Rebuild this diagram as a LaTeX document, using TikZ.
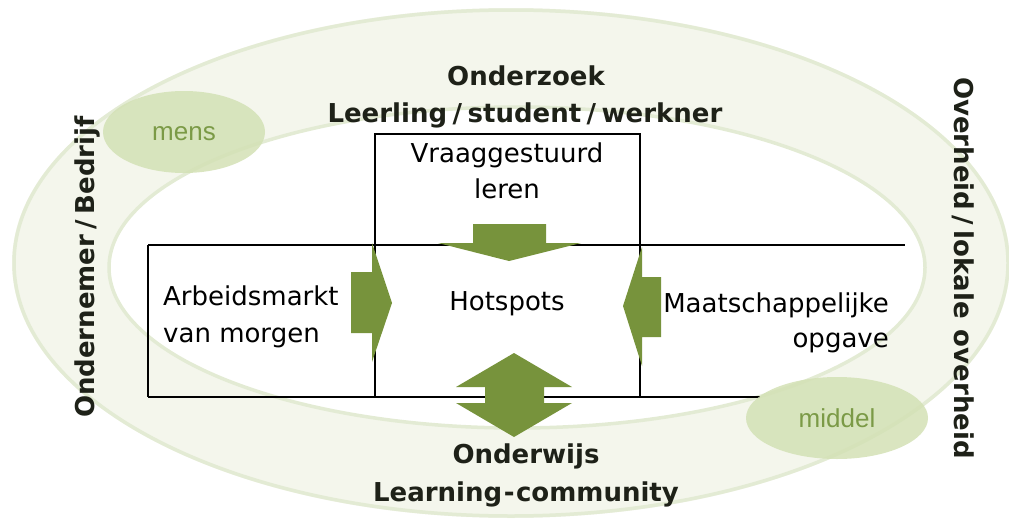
\documentclass[tikz,border=0pt]{standalone}
\usepackage{fontspec}
\setmainfont{DejaVu Sans}
\newfontfamily\arialfont{Liberation Sans}
\definecolor{ringfill}{HTML}{F4F6EC}
\definecolor{ringline}{HTML}{E3EBD4}
\definecolor{olivegreen}{HTML}{77933C}
\definecolor{blobfill}{HTML}{D3E1B5}
\definecolor{blobtext}{HTML}{7B9A46}
\definecolor{titletext}{HTML}{1E2118}
\newcommand\wideslash{\kern5.5pt/\kern5.5pt}
\begin{document}
\begin{tikzpicture}[x=1pt,y=-1pt,
  plain/.style={font=\fontsize{26}{30}\selectfont, inner sep=0pt, text=black},
  title/.style={font=\fontsize{26}{30}\selectfont\bfseries, inner sep=0pt, text=titletext},
  blobtxt/.style={font=\arialfont\fontsize{26}{30}\selectfont, inner sep=0pt, text=blobtext},
  blob/.style={fill=blobfill, fill opacity=0.85, draw=none},
  boxline/.style={draw=black, line width=1.5pt},
  bigarrow/.style={fill=olivegreen, draw=none},
  ringstroke/.style={draw=ringline, line width=3.5pt}]
\useasboundingbox (0,0) rectangle (1009,522);
% ring
\fill[ringfill, even odd rule] (511,263) ellipse [x radius=499, y radius=255]
  (517,267.5) ellipse [x radius=408, y radius=160.5];
\draw[ringstroke] (511,263) ellipse [x radius=497, y radius=253];
\draw[ringstroke] (517,267.5) ellipse [x radius=408, y radius=160.5];
% box lines
\draw[boxline] (148,245) -- (905,245);
\draw[boxline] (148,397) -- (760,397);
\draw[boxline] (148,245) -- (148,397);
\draw[boxline] (375,397) -- (375,134) -- (640,134) -- (640,397);
% texts
\node[plain, anchor=base] (vraag) at (507,162) {Vraaggestuurd};
\node[plain, anchor=base] (leren) at (507,198) {leren};
\node[plain, anchor=base] (hot) at (507,310) {Hotspots};
\node[plain, anchor=base west] (arb) at (163,305) {Arbeidsmarkt};
\node[plain, anchor=base west] (vanm) at (163,342) {van morgen};
\node[plain, anchor=base east] (maat) at (889,312) {Maatschappelijke};
\node[plain, anchor=base east] (opg) at (889,347) {opgave};
\node[title, anchor=base] (onderzoek) at (526,85) {Onderzoek};
\node[title, anchor=base] (leerling) at (525,122) {Leerling\wideslash student\wideslash werkner};
\node[title, anchor=base] (onderwijs) at (526,463) {Onderwijs};
\node[title, anchor=base] (learning) at (526,501) {Learning\kern1.5pt-\kern1.5pt community};
\node[title, rotate=90] (bedrijf) at (87,267) {Ondernemer\wideslash Bedrijf};
\node[title, rotate=-90] (overheid) at (963,268) {Overheid\wideslash lokale\kern2pt\ overheid};
% arrows
\fill[bigarrow] (473,224) -- (546,224) -- (546,243) -- (581,243) -- (509,261)
  -- (438,243) -- (473,243) -- cycle;
\fill[bigarrow] (351,272) -- (372,272) -- (372,243) -- (392,303) -- (372,362)
  -- (372,333) -- (351,333) -- cycle;
\fill[bigarrow] (661,277) -- (642,277) -- (642,247) -- (623,306) -- (642,366)
  -- (642,337) -- (661,337) -- cycle;
\fill[bigarrow] (514,353) -- (572,387) -- (544,387) -- (544,403) -- (572,403)
  -- (514,437) -- (456,403) -- (485,403) -- (485,387) -- (456,387) -- cycle;
% blobs
\fill[blob] (184,132) ellipse [x radius=81, y radius=41];
\node[blobtxt, anchor=base] (mens) at (184,140) {mens};
\fill[blob] (837,418) ellipse [x radius=91, y radius=41];
\node[blobtxt, anchor=base] (middel) at (837,427) {middel};
\end{tikzpicture}
\end{document}
